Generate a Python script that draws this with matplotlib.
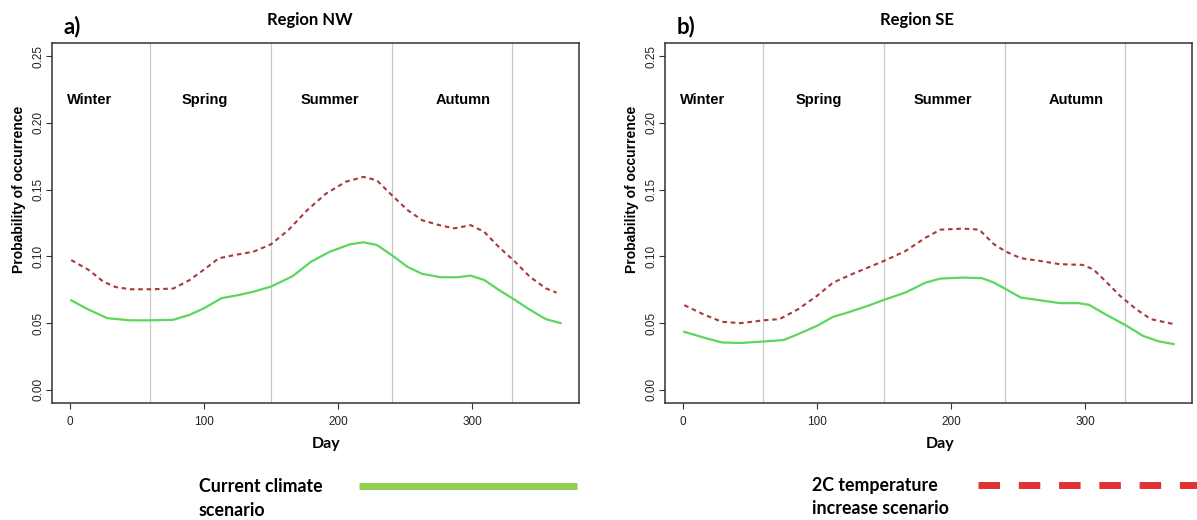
import matplotlib
matplotlib.use("Agg")
import matplotlib.pyplot as plt
from matplotlib.lines import Line2D

# ---- data ----
nw_days_cur = [1, 14, 28, 45, 60, 77, 89, 100, 113, 126, 137, 150, 166, 180, 194, 209, 219, 229,
               240, 252, 263, 277, 289, 299, 309, 320, 332, 343, 355, 366]
nw_cur = [0.067, 0.060, 0.0536, 0.052, 0.052, 0.0524, 0.056, 0.061, 0.0686, 0.071, 0.0735, 0.0773,
          0.085, 0.096, 0.1035, 0.109, 0.1105, 0.1085, 0.101, 0.092, 0.0868, 0.0843, 0.0843,
          0.0855, 0.0823, 0.0748, 0.0673, 0.060, 0.0529, 0.0499]
nw_days_2c = [1, 14, 25, 34, 45, 60, 77, 89, 100, 111, 123, 137, 150, 163, 177, 191, 206, 219, 229,
              240, 252, 263, 277, 287, 299, 309, 320, 332, 343, 355, 363]
nw_2c = [0.0972, 0.0898, 0.081, 0.077, 0.0753, 0.0753, 0.0758, 0.082, 0.090, 0.0985, 0.101, 0.1035,
         0.109, 0.1197, 0.1346, 0.147, 0.156, 0.1596, 0.157, 0.146, 0.1346, 0.127, 0.123, 0.121,
         0.1234, 0.1184, 0.107, 0.096, 0.0848, 0.076, 0.0728]

se_days_cur = [1, 15, 29, 43, 61, 75, 86, 100, 112, 123, 138, 150, 166, 181, 192, 209, 223, 232,
               241, 252, 266, 281, 295, 303, 315, 331, 343, 355, 366]
se_cur = [0.0434, 0.0392, 0.0354, 0.035, 0.0362, 0.0372, 0.0417, 0.0479, 0.0546, 0.0579, 0.0629,
          0.0674, 0.0729, 0.0803, 0.0833, 0.0841, 0.0836, 0.0803, 0.0753, 0.0691, 0.0671, 0.0649,
          0.0649, 0.0636, 0.0566, 0.0479, 0.0404, 0.0362, 0.0342]
se_days_2c = [1, 15, 29, 43, 61, 72, 86, 100, 112, 126, 138, 150, 166, 181, 192, 209, 221, 232,
              241, 252, 266, 281, 298, 306, 315, 326, 338, 349, 366]
se_2c = [0.0634, 0.0566, 0.0509, 0.0499, 0.0521, 0.0529, 0.0604, 0.0704, 0.0803, 0.0866, 0.0916,
         0.0966, 0.104, 0.114, 0.120, 0.1208, 0.120, 0.109, 0.1035, 0.0986, 0.0966, 0.0941,
         0.0936, 0.0903, 0.0816, 0.0704, 0.0604, 0.0529, 0.0492]

season_names = ["Winter", "Spring", "Summer", "Autumn"]
season_mid = [15, 101, 194, 293]
season_breaks = [60, 150, 240, 330]
x_ticks = [0, 100, 200, 300]
y_ticks = [0.00, 0.05, 0.10, 0.15, 0.20, 0.25]

panels = [
    ("a)", "Region NW", nw_days_cur, nw_cur, nw_days_2c, nw_2c),
    ("b)", "Region SE", se_days_cur, se_cur, se_days_2c, se_2c),
]

W, H = 1197, 520
GREEN = "#5cd65c"
DARKRED = "#a83a3a"
TITLE_FONT = "Lato"
AXIS_FONT = "Liberation Sans"


def fx(px):
    return px / W


def fy(py):
    return 1 - py / H


fig = plt.figure(figsize=(W / 100, H / 100), dpi=100)

ax_left = [51.7, 664.8]
ax_w, ax_top, ax_bot = 527.0, 43.0, 403.0
title_x = [(72, 310), (686, 917)]
day_x = [326, 940]

for i, (tag, title, dc, vc, d2, v2) in enumerate(panels):
    ax = fig.add_axes([fx(ax_left[i]), fy(ax_bot), ax_w / W, (ax_bot - ax_top) / H])
    for b in season_breaks:
        ax.axvline(b, color="#c8c8c8", lw=0.9, zorder=1)
    ax.plot(d2, v2, color=DARKRED, lw=1.5, dashes=(2.2, 1.8), zorder=3,
            solid_joinstyle="round", dash_joinstyle="round")
    ax.plot(dc, vc, color=GREEN, lw=1.6, zorder=3, solid_joinstyle="round")
    for name, m in zip(season_names, season_mid):
        ax.text(m, 0.217, name, ha="center", va="center", fontsize=10.5,
                fontweight="bold", family=AXIS_FONT)

    ax.set_xlim(-13.56, 379.56)
    ax.set_ylim(-0.01, 0.26)
    ax.set_xticks(x_ticks)
    ax.set_yticks(y_ticks)
    ax.set_yticklabels([f"{v:.2f}" for v in y_ticks])
    ax.tick_params(axis="both", direction="out", length=4.5, width=0.8, color="#333333",
                   labelsize=8.5, labelcolor="#222222")
    ax.tick_params(axis="x", pad=5)
    ax.tick_params(axis="y", pad=1)
    for lab in ax.get_yticklabels():
        lab.set_rotation(90)
        lab.set_va("center")
        lab.set_family(AXIS_FONT)
    for lab in ax.get_xticklabels():
        lab.set_family(AXIS_FONT)
    for s in ax.spines.values():
        s.set_linewidth(1.1)
        s.set_color("#333333")

    # y label, titles, x label
    fig.text(fx(ax_left[i] - 33), fy(189), "Probability of occurrence", rotation=90,
             ha="center", va="center", fontsize=10, fontweight="bold", family=AXIS_FONT)
    fig.text(fx(title_x[i][0]), fy(27), tag, ha="center", va="center", fontsize=16,
             fontweight="bold", family=TITLE_FONT)
    fig.text(fx(title_x[i][1]), fy(20), title, ha="center", va="center", fontsize=12,
             fontweight="bold", family=TITLE_FONT)
    fig.text(fx(day_x[i]), fy(444), "Day", ha="center", va="center", fontsize=11.5,
             fontweight="bold", family=TITLE_FONT)

# legend drawn as figure artists
fig.text(fx(199), fy(487), "Current climate", ha="left", va="center", fontsize=12.8,
         fontweight="bold", family=TITLE_FONT)
fig.text(fx(199), fy(510), "scenario", ha="left", va="center", fontsize=12.8,
         fontweight="bold", family=TITLE_FONT)
fig.add_artist(Line2D([fx(359), fx(577)], [fy(486), fy(486)], color="#92d050", lw=5,
                      solid_capstyle="butt"))

fig.text(fx(812), fy(485), "2C temperature", ha="left", va="center", fontsize=12.8,
         fontweight="bold", family=TITLE_FONT)
fig.text(fx(812), fy(508), "increase scenario", ha="left", va="center", fontsize=12.8,
         fontweight="bold", family=TITLE_FONT)
fig.add_artist(Line2D([fx(978), fx(1197)], [fy(485), fy(485)], color="#e03234", lw=5,
                      dashes=(3.1, 2.7), dash_capstyle="butt"))

fig.savefig("out.png", dpi=100)
